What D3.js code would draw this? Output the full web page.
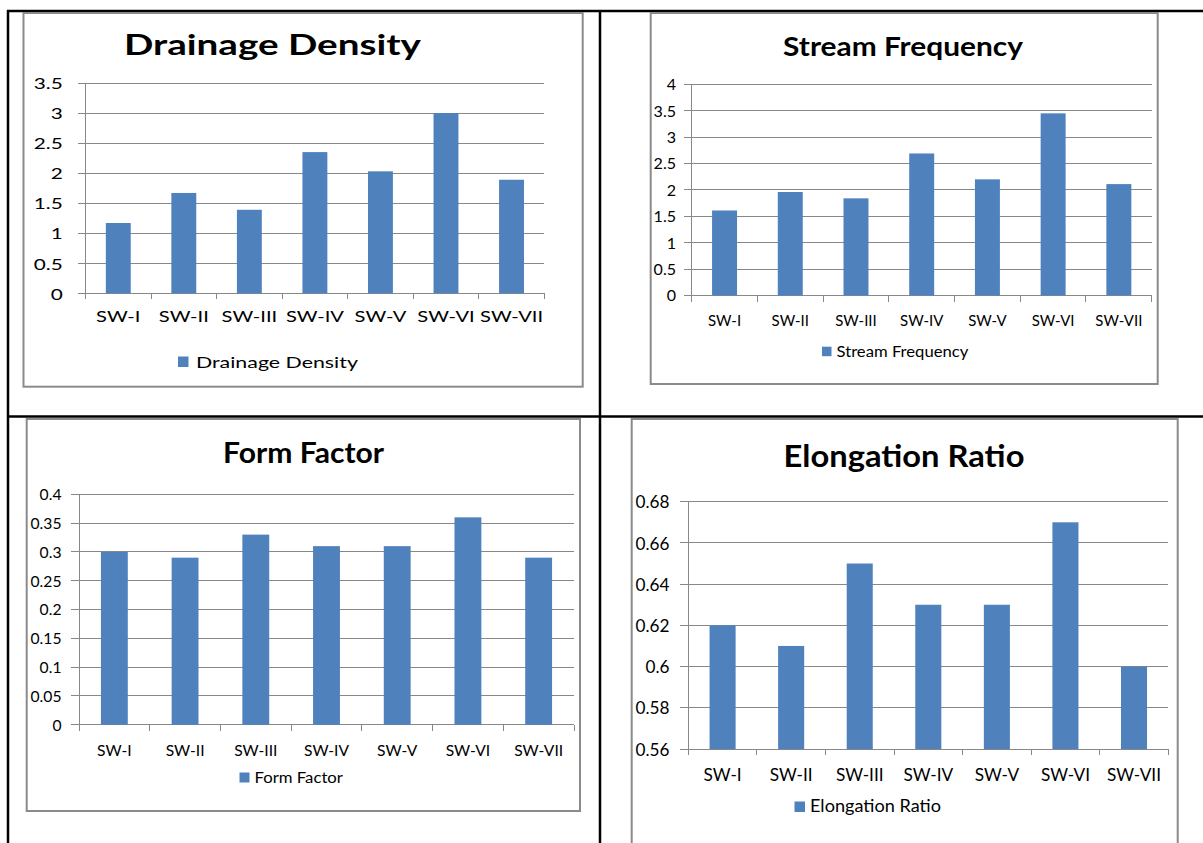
<!DOCTYPE html>
<html><head><meta charset="utf-8">
<script src="https://cdn.jsdelivr.net/npm/d3@7"></script>
<style>body{margin:0;background:#fff}svg{display:block}</style>
</head><body>
<svg id="c" width="1203" height="843"></svg>
<script>
// ---- data ----
const categories = ["SW-I","SW-II","SW-III","SW-IV","SW-V","SW-VI","SW-VII"];
const drainageDensity = [1.17,1.67,1.39,2.35,2.03,3.00,1.89];
const streamFrequency = [1.61,1.96,1.84,2.69,2.20,3.45,2.11];
const formFactor = [0.30,0.29,0.33,0.31,0.31,0.36,0.29];
const elongationRatio = [0.62,0.61,0.65,0.63,0.63,0.67,0.60];
const ddTicks = [0,0.5,1,1.5,2,2.5,3,3.5];
const sfTicks = [0,0.5,1,1.5,2,2.5,3,3.5,4];
const ffTicks = [0,0.05,0.1,0.15,0.2,0.25,0.3,0.35,0.4];
const erTicks = [0.56,0.58,0.6,0.62,0.64,0.66,0.68];
const titles = ["Drainage Density","Stream Frequency","Form Factor","Elongation Ratio"];

const svg = d3.select("#c");
const FONT = "Lato, 'Open Sans', sans-serif";
const BAR = "#4F81BD", GRID = "#888888", BOX = "#8a8a8a";

// table borders
const tbl = svg.append("g").attr("stroke","#000").attr("stroke-width",2.5);
tbl.append("line").attr("x1",7).attr("x2",1203).attr("y1",11).attr("y2",11);
tbl.append("line").attr("x1",8).attr("x2",8).attr("y1",10).attr("y2",843);
tbl.append("line").attr("x1",600).attr("x2",600).attr("y1",10).attr("y2",843);
tbl.append("line").attr("x1",7).attr("x2",1203).attr("y1",416.5).attr("y2",416.5);

function measure(text, size, weight){
  const t = svg.append("text").attr("font-family",FONT).attr("font-size",size)
    .attr("font-weight",weight||"normal").text(text);
  const w = t.node().getComputedTextLength(); t.remove(); return w;
}

function drawChart(c){
  const g = svg.append("g");
  g.append("rect").attr("x",c.box[0]).attr("y",c.box[1])
    .attr("width",c.box[2]-c.box[0]).attr("height",c.box[3]-c.box[1])
    .attr("fill","#fff").attr("stroke",BOX).attr("stroke-width",2);

  const x = d3.scaleBand().domain(categories).range([c.x0,c.x1]).paddingInner(0.62).paddingOuter(0.31);
  const y = d3.scaleLinear().domain([c.ticks[0], c.ticks[c.ticks.length-1]]).range([c.y0,c.ytop]);

  // gridlines
  g.append("g").selectAll("line").data(c.ticks).join("line")
    .attr("x1",c.x0-8).attr("x2",c.x1).attr("y1",d=>y(d)).attr("y2",d=>y(d))
    .attr("stroke",GRID).attr("stroke-width",1).attr("shape-rendering","crispEdges");
  // y axis line
  g.append("line").attr("x1",c.x0).attr("x2",c.x0).attr("y1",c.ytop).attr("y2",c.y0+6)
    .attr("stroke",GRID).attr("shape-rendering","crispEdges");
  // category boundary ticks
  g.append("g").selectAll("line").data(d3.range(categories.length+1)).join("line")
    .attr("x1",i=>c.x0+i*x.step()).attr("x2",i=>c.x0+i*x.step())
    .attr("y1",c.y0).attr("y2",c.y0+6).attr("stroke",GRID).attr("shape-rendering","crispEdges");

  // bars
  g.append("g").selectAll("rect").data(c.values).join("rect")
    .attr("x",(d,i)=>x(categories[i])).attr("width",x.bandwidth())
    .attr("y",d=>y(d)).attr("height",d=>c.y0-y(d)).attr("fill",BAR);

  // y labels
  const ysx = c.yLabW / measure(c.yLabRef, c.yFs);
  const ya = g.append("g").attr("transform",`translate(${c.x0},0)`)
    .call(d3.axisLeft(y).tickValues(c.ticks).tickFormat(d=>String(d)).tickSize(0));
  ya.select(".domain").remove();
  ya.selectAll("text").attr("x",0).attr("dy","0.36em")
    .attr("font-family",FONT).attr("font-size",c.yFs).attr("fill","#000")
    .attr("transform",`translate(${-(c.x0-c.yLabR)},0) scale(${ysx},1)`);

  // x labels
  const xsx = c.xLabW / measure("SW-VII", c.xFs);
  const xa = g.append("g").attr("transform",`translate(0,${c.y0})`)
    .call(d3.axisBottom(x).tickSize(0));
  xa.select(".domain").remove();
  xa.selectAll("text").attr("y",0).attr("dy","0.36em")
    .attr("font-family",FONT).attr("font-size",c.xFs).attr("fill","#000")
    .attr("transform",`translate(0,${c.xLabCy-c.y0}) scale(${xsx},1)`);

  // title
  const tsx = c.titleW / measure(c.title, c.titleFs, "bold");
  g.append("g").attr("transform",`translate(${c.titleCx},${c.titleBase}) scale(${tsx},1)`)
    .append("text").attr("text-anchor","middle").attr("font-family",FONT)
    .attr("font-weight","bold").attr("font-size",c.titleFs).attr("fill","#000").text(c.title);

  // legend
  g.append("rect").attr("x",c.leg[0]).attr("y",c.leg[1]).attr("width",c.leg[2]).attr("height",c.leg[2]).attr("fill",BAR);
  const lsx = c.legW / measure(c.title, c.legFs);
  g.append("g").attr("transform",`translate(${c.legTx},${c.legCy}) scale(${lsx},1)`)
    .append("text").attr("dy","0.36em").attr("font-family",FONT)
    .attr("font-size",c.legFs).attr("fill","#000").text(c.title);
}

drawChart({box:[23.5,13,582.7,386.7], x0:85.5, x1:544.3, y0:293.3, ytop:83, ticks:ddTicks, values:drainageDensity,
  yFs:16, yLabRef:"3.5", yLabW:29, yLabR:62.7, xFs:16, xLabW:63, xLabCy:316,
  title:titles[0], titleFs:29, titleW:297, titleCx:272.5, titleBase:54.5,
  leg:[178,356.5,10.5], legTx:196, legCy:362, legFs:15.5, legW:162});

drawChart({box:[650.7,13,1157.7,384], x0:691.7, x1:1151.7, y0:295.5, ytop:84.3, ticks:sfTicks, values:streamFrequency,
  yFs:15, yLabRef:"0.5", yLabW:22.4, yLabR:676, xFs:15, xLabW:47, xLabCy:320.5,
  title:titles[1], titleFs:27, titleW:240, titleCx:903, titleBase:56,
  leg:[822,346.7,9.5], legTx:836.5, legCy:351.5, legFs:15, legW:132});

drawChart({box:[26.7,419,580,811], x0:79, x1:574, y0:724.7, ytop:494.3, ticks:ffTicks, values:formFactor,
  yFs:15, yLabRef:"0.05", yLabW:31, yLabR:61.5, xFs:15.5, xLabW:49, xLabCy:750,
  title:titles[2], titleFs:28, titleW:161, titleCx:303.5, titleBase:463,
  leg:[239.5,772.5,10], legTx:254.5, legCy:777.5, legFs:15, legW:88.5});

drawChart({box:[631.7,419,1177.7,880], x0:688.3, x1:1168.3, y0:749, ytop:501.7, ticks:erTicks, values:elongationRatio,
  yFs:17, yLabRef:"0.56", yLabW:34, yLabR:669.5, xFs:17.5, xLabW:54, xLabCy:775,
  title:titles[3], titleFs:31, titleW:241, titleCx:904, titleBase:467,
  leg:[794.5,801.5,10.5], legTx:810, legCy:806.5, legFs:16.5, legW:131});
</script>
</body></html>
